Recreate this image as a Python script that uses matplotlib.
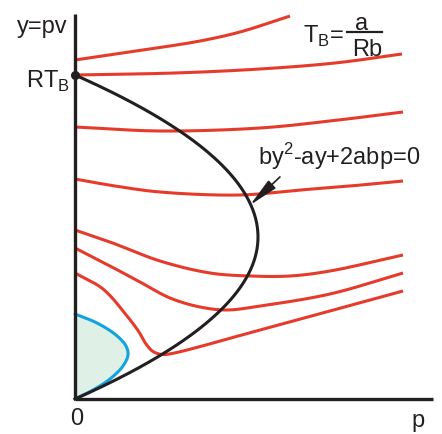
import numpy as np
import matplotlib
matplotlib.use('Agg')
import matplotlib.pyplot as plt

plt.rcParams['font.family'] = ['Liberation Sans', 'DejaVu Sans']
plt.rcParams['mathtext.fontset'] = 'custom'
plt.rcParams['mathtext.rm'] = 'Liberation Sans'

# Boyle temperature intercept and the peak pressure of the Boyle curve
RT_B = 3.24
p_max = 1.83
# by^2 - ay + 2abp = 0  ->  a/b = RT_B,  a/(8b^2) = p_max
b = RT_B / (8 * p_max)
a = RT_B * b

# isotherms, top to bottom (p, y=pv)
iso1_p = [0.0, 0.75, 1.25, 1.65, 2.15]
iso1_y = [3.39, 3.50, 3.58, 3.67, 3.83]
iso2_p = [0.0, 1.0, 1.85, 2.6, 3.27]
iso2_y = [3.24, 3.26, 3.30, 3.36, 3.45]
iso3_p = [0.0, 0.85, 1.85, 2.55, 3.28]
iso3_y = [2.72, 2.68, 2.71, 2.78, 2.87]
iso4_p = [0.0, 0.40, 0.85, 1.65, 2.25, 2.75, 3.28]
iso4_y = [2.20, 2.13, 2.07, 2.04, 2.09, 2.13, 2.18]
iso5_p = [0.0, 0.35, 0.85, 1.35, 1.75, 2.15, 2.55, 3.28]
iso5_y = [1.69, 1.57, 1.38, 1.26, 1.23, 1.23, 1.28, 1.44]
iso6_p = [0.0, 0.35, 0.65, 0.95, 1.25, 1.52, 1.85, 2.55, 3.28]
iso6_y = [1.51, 1.33, 1.17, 1.01, 0.92, 0.89, 0.93, 1.05, 1.26]
iso7_p = [0.0, 0.28, 0.52, 0.64, 0.71, 0.78, 0.87, 0.97, 1.85, 3.28]
iso7_y = [1.26, 1.10, 0.83, 0.67, 0.55, 0.475, 0.445, 0.455, 0.69, 1.08]

# two-phase region boundary
phase_p = [0.0, 0.22, 0.41, 0.51, 0.53, 0.48, 0.35, 0.18, 0.0]
phase_y = [0.85, 0.76, 0.64, 0.53, 0.44, 0.33, 0.20, 0.09, 0.0]

RED = '#e63a2b'
BLACK = '#231f20'
BLUE = '#12a3e0'


def smooth(xs, ys, n=40):
    # centripetal Catmull-Rom through the given points
    pts = np.column_stack([xs, ys]).astype(float)
    pts = np.vstack([2 * pts[0] - pts[1], pts, 2 * pts[-1] - pts[-2]])
    out = []
    for i in range(1, len(pts) - 2):
        p0, p1, p2, p3 = pts[i - 1], pts[i], pts[i + 1], pts[i + 2]
        t0 = 0.0
        t1 = t0 + np.linalg.norm(p1 - p0) ** 0.5
        t2 = t1 + np.linalg.norm(p2 - p1) ** 0.5
        t3 = t2 + np.linalg.norm(p3 - p2) ** 0.5
        t = np.linspace(t1, t2, n, endpoint=False)[:, None]
        a1 = (t1 - t) / (t1 - t0) * p0 + (t - t0) / (t1 - t0) * p1
        a2 = (t2 - t) / (t2 - t1) * p1 + (t - t1) / (t2 - t1) * p2
        a3 = (t3 - t) / (t3 - t2) * p2 + (t - t2) / (t3 - t2) * p3
        b1 = (t2 - t) / (t2 - t0) * a1 + (t - t0) / (t2 - t0) * a2
        b2 = (t3 - t) / (t3 - t1) * a2 + (t - t1) / (t3 - t1) * a3
        out.append((t2 - t) / (t2 - t1) * b1 + (t - t1) / (t2 - t1) * b2)
    out.append(pts[-2][None, :])
    out = np.vstack(out)
    return out[:, 0], out[:, 1]


fig = plt.figure(figsize=(4.42, 4.35), dpi=100)
ax = fig.add_axes([0, 0, 1, 1])
ax.set_xlim(-0.75, 3.67)
ax.set_ylim(-0.35, 4.0)
ax.axis('off')

# two-phase region
bx, by_ = smooth(phase_p, phase_y)
ax.fill_betweenx(by_, 0, bx, color='#dff0e6', lw=0)
ax.plot(bx, by_, color=BLUE, lw=2.2, solid_capstyle='round')

# isotherms
for ps, ys in [(iso1_p, iso1_y), (iso2_p, iso2_y), (iso3_p, iso3_y),
               (iso4_p, iso4_y), (iso5_p, iso5_y), (iso6_p, iso6_y),
               (iso7_p, iso7_y)]:
    sx, sy = smooth(ps, ys)
    ax.plot(sx, sy, color=RED, lw=2.2, solid_capstyle='butt')

# Boyle curve
yy = np.linspace(0, RT_B, 300)
pp = yy * (a - b * yy) / (2 * a * b)
ax.plot(pp, yy, color=BLACK, lw=2.2)
ax.plot([0], [RT_B], 'o', color=BLACK, ms=5.5, zorder=5)

# axes
ax.plot([0, 0], [0, 3.85], color=BLACK, lw=2.4, solid_capstyle='butt')
ax.plot([0, 3.58], [0, 0], color=BLACK, lw=2.4, solid_capstyle='butt')

fs = 17
ax.text(-0.07, 3.67, 'y=pv', fontsize=fs, ha='right', va='baseline', color=BLACK)
ax.text(-0.05, 3.12, r'RT$_\mathregular{B}$', fontsize=fs, ha='right',
        va='baseline', color=BLACK)
ax.text(0.02, -0.08, '0', fontsize=fs, ha='center', va='top', color=BLACK)
ax.text(3.43, -0.27, 'p', fontsize=fs, ha='center', va='baseline', color=BLACK)

ax.text(1.83, 2.35, r'by$^\mathregular{2}$-ay+2abp=0', fontsize=fs,
        ha='left', va='baseline', color=BLACK)
ax.annotate('', xy=(1.73, 1.92), xytext=(2.07, 2.24),
            arrowprops=dict(arrowstyle='-|>,head_length=1.0,head_width=0.18',
                            color=BLACK, lw=1.2, mutation_scale=18))

# T_B = a / Rb
ax.text(2.28, 3.57, r'T$_\mathregular{B}$=', fontsize=fs, ha='left',
        va='baseline', color=BLACK)
ax.plot([2.72, 3.07], [3.67, 3.67], color=BLACK, lw=1.6)
ax.text(2.87, 3.70, 'a', fontsize=fs, ha='center', va='baseline', color=BLACK)
ax.text(2.92, 3.44, 'Rb', fontsize=fs, ha='center', va='baseline', color=BLACK)

fig.savefig('out.png', dpi=100, facecolor='white')
